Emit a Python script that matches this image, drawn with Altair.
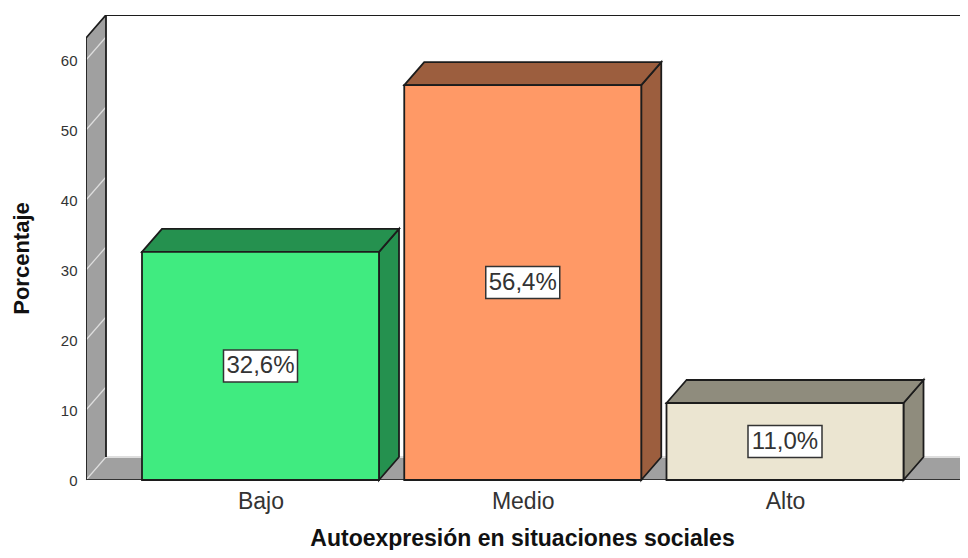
import altair as alt
import pandas as pd

categories = ["Bajo", "Medio", "Alto"]
values = [32.6, 56.4, 11.0]
labels = ["32,6%", "56,4%", "11,0%"]
front_colors = ["#40EB80", "#FF9966", "#EBE5D1"]
side_colors = ["#25914F", "#9C5E3E", "#8F8C7D"]
y_ticks = [0, 10, 20, 30, 40, 50, 60]

PX = 262.25              # px per category step
XMIN = (86 - 260.5) / PX
XMAX = (960 - 260.5) / PX
YMAX = 465 / 7
DX = 20 / PX             # 3-D depth
DY = 23 / 7
HALF = 118.5 / PX
WALL_TOP = 442 / 7
FLOOR_END = XMAX
INK = "#1c1c1c"
WALL = "#a0a0a0"
LIGHT = "#dedede"

xs = alt.Scale(domain=[XMIN, XMAX], nice=False, zero=False)
ys = alt.Scale(domain=[0, YMAX], nice=False, zero=False)

label_expr = "datum.value == 0 ? '%s' : datum.value == 1 ? '%s' : '%s'" % tuple(categories)
X = alt.X("x:Q", scale=xs, axis=alt.Axis(
    values=[0, 1, 2], labelExpr=label_expr, grid=False, domain=False, ticks=False,
    labelFont="Liberation Sans", labelFontSize=23, labelColor="#333333", labelPadding=10,
    title="Autoexpresión en situaciones sociales", titleFont="Liberation Sans", titleFontSize=23,
    titleFontWeight="bold", titleColor="#111111", titleX=436, titleY=47))
Y = alt.Y("y:Q", scale=ys, axis=alt.Axis(
    values=y_ticks, grid=False, domain=False, ticks=False,
    labelFont="Liberation Sans", labelFontSize=15, labelColor="#333333", labelPadding=9,
    title="Porcentaje", titleFont="Liberation Sans", titleFontSize=22,
    titleFontWeight="bold", titleColor="#111111", titleX=-53, titleY=243))

# wall and floor
wall = alt.Chart(pd.DataFrame({"x": [XMIN, XMIN + DX], "y": [0, DY], "y2": [WALL_TOP, WALL_TOP + DY]})).mark_area(
    orient="vertical", color=WALL).encode(X, Y, y2="y2:Q")
floor = alt.Chart(pd.DataFrame({"y": [0, DY], "x": [XMIN, XMIN + DX], "x2": [FLOOR_END, FLOOR_END + DX]})).mark_area(
    orient="horizontal", color=WALL, clip=True).encode(X, Y, x2="x2:Q")

grid_df = pd.DataFrame(
    [{"t": t, "x": XMIN + i * DX, "y": t + i * DY} for t in y_ticks for i in (0, 1)]
)
grid = alt.Chart(grid_df).mark_line(color=LIGHT, strokeWidth=1.2).encode(X, Y, detail="t:N")


def seg(points, color, width=1.8):
    df = pd.DataFrame({"x": [p[0] for p in points], "y": [p[1] for p in points], "o": range(len(points))})
    return alt.Chart(df).mark_line(color=color, strokeWidth=width, clip=True).encode(X, Y, order="o:Q")


lines = [
    seg([(XMIN + DX, DY), (XMAX, DY)], LIGHT, 2),
    seg([(XMIN, 0), (XMIN, WALL_TOP), (XMIN + DX, WALL_TOP + DY), (XMAX, WALL_TOP + DY)], INK),
    seg([(XMIN + DX, DY), (XMIN + DX, WALL_TOP + DY)], INK),
    seg([(XMIN, 0), (FLOOR_END, 0)], "#333333"),
]

# boxes
bars = []
for i, (v, fc, sc, lab) in enumerate(zip(values, front_colors, side_colors, labels)):
    x0, x1 = i - HALF, i + HALF
    side = alt.Chart(pd.DataFrame({"x": [x1, x1 + DX], "y": [0, DY], "y2": [v, v + DY]})).mark_area(
        orient="vertical", color=sc, stroke=INK, strokeWidth=1.8).encode(X, Y, y2="y2:Q")
    top = alt.Chart(pd.DataFrame({"y": [v, v + DY], "x": [x0, x0 + DX], "x2": [x1, x1 + DX]})).mark_area(
        orient="horizontal", color=sc, stroke=INK, strokeWidth=1.8).encode(X, Y, x2="x2:Q")
    front = alt.Chart(pd.DataFrame({"x": [x0], "x2": [x1], "y": [0], "y2": [v]})).mark_rect(
        color=fc, stroke=INK, strokeWidth=1.8).encode(X, x2="x2:Q", y=Y, y2="y2:Q")
    box = alt.Chart(pd.DataFrame({"x": [i - 37 / PX], "x2": [i + 37 / PX], "y": [v / 2 - 16 / 7], "y2": [v / 2 + 16 / 7]})).mark_rect(
        color="white", stroke="#333333", strokeWidth=1.5).encode(X, x2="x2:Q", y=Y, y2="y2:Q")
    text = alt.Chart(pd.DataFrame({"x": [i], "y": [v / 2], "t": [lab]})).mark_text(
        font="Liberation Sans", fontSize=24, color="#333333", baseline="middle", align="center"
    ).encode(X, Y, text="t:N")
    bars += [side, top, front, box, text]

chart = alt.layer(wall, floor, grid, *lines, *bars).properties(
    width=874, height=465,
    padding={"left": 78, "top": 7, "right": 0, "bottom": 70},
    autosize=alt.AutoSizeParams(type="none"),
    background="white",
).configure_view(stroke=None)

chart.save("out.html", embed_options={"renderer": "svg", "actions": False})
